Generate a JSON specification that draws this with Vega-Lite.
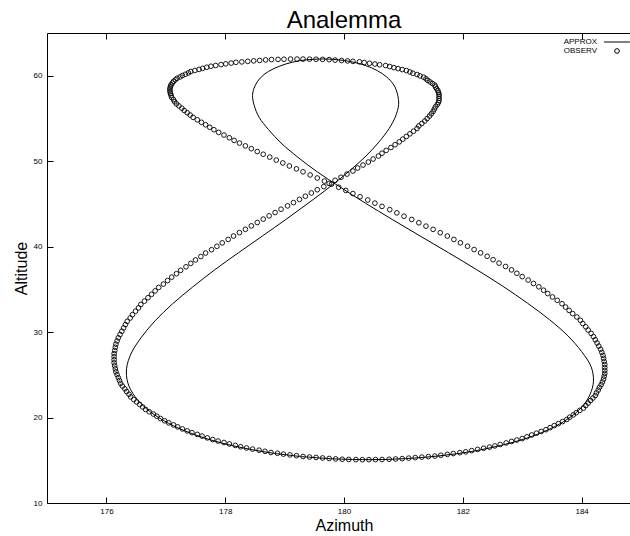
{
  "$schema": "https://vega.github.io/schema/vega-lite/v6.json",
  "width": 594,
  "height": 470,
  "autosize": {"type": "none"},
  "padding": {"left": 47, "top": 33, "right": 0, "bottom": 33},
  "background": "white",
  "title": {"text": "Analemma", "fontSize": 24, "font": "Liberation Sans", "fontWeight": "normal", "color": "black", "anchor": "middle", "offset": -19, "baseline": "alphabetic"},
  "config": {"view": {"stroke": "black", "strokeWidth": 1}, "font": "Liberation Sans"},
  "datasets": {
    "approx": [
      {"t":0,"az":179.27,"alt":15.44},{"t":5,"az":178.72,"alt":15.92},{"t":10,"az":178.20,"alt":16.59},{"t":15,"az":177.72,"alt":17.45},{"t":20,"az":177.31,"alt":18.47},{"t":25,"az":176.96,"alt":19.66},{"t":30,"az":176.68,"alt":21.00},{"t":35,"az":176.48,"alt":22.47},{"t":40,"az":176.36,"alt":24.07},{"t":45,"az":176.34,"alt":25.76},{"t":50,"az":176.42,"alt":27.55},{"t":55,"az":176.59,"alt":29.40},{"t":60,"az":176.82,"alt":31.32},{"t":65,"az":177.11,"alt":33.28},{"t":70,"az":177.45,"alt":35.26},{"t":75,"az":177.82,"alt":37.27},{"t":80,"az":178.22,"alt":39.27},{"t":85,"az":178.63,"alt":41.26},{"t":90,"az":179.03,"alt":43.22},{"t":95,"az":179.41,"alt":45.15},{"t":100,"az":179.77,"alt":47.03},{"t":105,"az":180.09,"alt":48.85},{"t":110,"az":180.37,"alt":50.60},{"t":115,"az":180.59,"alt":52.26},{"t":120,"az":180.76,"alt":53.83},{"t":125,"az":180.87,"alt":55.29},{"t":130,"az":180.92,"alt":56.63},{"t":135,"az":180.90,"alt":57.84},{"t":140,"az":180.84,"alt":58.91},{"t":145,"az":180.72,"alt":59.84},{"t":150,"az":180.56,"alt":60.60},{"t":155,"az":180.36,"alt":61.20},{"t":160,"az":180.13,"alt":61.63},{"t":165,"az":179.88,"alt":61.88},{"t":170,"az":179.63,"alt":61.96},{"t":175,"az":179.37,"alt":61.86},{"t":180,"az":179.13,"alt":61.58},{"t":185,"az":178.92,"alt":61.13},{"t":190,"az":178.73,"alt":60.51},{"t":195,"az":178.59,"alt":59.73},{"t":200,"az":178.50,"alt":58.79},{"t":205,"az":178.46,"alt":57.71},{"t":210,"az":178.49,"alt":56.49},{"t":215,"az":178.57,"alt":55.15},{"t":220,"az":178.73,"alt":53.69},{"t":225,"az":178.94,"alt":52.13},{"t":230,"az":179.22,"alt":50.48},{"t":235,"az":179.55,"alt":48.75},{"t":240,"az":179.94,"alt":46.95},{"t":245,"az":180.36,"alt":45.09},{"t":250,"az":180.81,"alt":43.19},{"t":255,"az":181.28,"alt":41.25},{"t":260,"az":181.76,"alt":39.29},{"t":265,"az":182.23,"alt":37.32},{"t":270,"az":182.68,"alt":35.34},{"t":275,"az":183.09,"alt":33.38},{"t":280,"az":183.46,"alt":31.45},{"t":285,"az":183.77,"alt":29.56},{"t":290,"az":184.00,"alt":27.72},{"t":295,"az":184.16,"alt":25.95},{"t":300,"az":184.20,"alt":24.26},{"t":305,"az":184.14,"alt":22.67},{"t":310,"az":184.00,"alt":21.19},{"t":315,"az":183.77,"alt":19.85},{"t":320,"az":183.46,"alt":18.64},{"t":325,"az":183.08,"alt":17.59},{"t":330,"az":182.63,"alt":16.72},{"t":335,"az":182.14,"alt":16.02},{"t":340,"az":181.60,"alt":15.51},{"t":345,"az":181.03,"alt":15.19},{"t":350,"az":180.44,"alt":15.07},{"t":355,"az":179.85,"alt":15.16},{"t":360,"az":179.27,"alt":15.44}
    ],
    "obs": [
      {"az":179.31,"alt":15.44},{"az":179.20,"alt":15.54},{"az":179.09,"alt":15.63},{"az":178.98,"alt":15.72},{"az":178.88,"alt":15.82},{"az":178.77,"alt":15.91},{"az":178.67,"alt":16.05},{"az":178.57,"alt":16.18},{"az":178.46,"alt":16.31},{"az":178.36,"alt":16.44},
      {"az":178.26,"alt":16.58},{"az":178.17,"alt":16.74},{"az":178.07,"alt":16.91},{"az":177.98,"alt":17.08},{"az":177.88,"alt":17.25},{"az":177.79,"alt":17.42},{"az":177.70,"alt":17.62},{"az":177.61,"alt":17.83},{"az":177.53,"alt":18.03},{"az":177.44,"alt":18.23},
      {"az":177.36,"alt":18.44},{"az":177.28,"alt":18.67},{"az":177.20,"alt":18.91},{"az":177.13,"alt":19.14},{"az":177.05,"alt":19.38},{"az":176.98,"alt":19.62},{"az":176.91,"alt":19.88},{"az":176.85,"alt":20.15},{"az":176.79,"alt":20.41},{"az":176.72,"alt":20.68},
      {"az":176.66,"alt":20.94},{"az":176.61,"alt":21.24},{"az":176.56,"alt":21.53},{"az":176.51,"alt":21.82},{"az":176.46,"alt":22.11},{"az":176.41,"alt":22.41},{"az":176.38,"alt":22.73},{"az":176.34,"alt":23.04},{"az":176.31,"alt":23.36},{"az":176.27,"alt":23.68},
      {"az":176.24,"alt":24.00},{"az":176.22,"alt":24.33},{"az":176.20,"alt":24.67},{"az":176.18,"alt":25.01},{"az":176.16,"alt":25.35},{"az":176.15,"alt":25.69},{"az":176.14,"alt":26.05},{"az":176.13,"alt":26.40},{"az":176.13,"alt":26.76},{"az":176.13,"alt":27.12},
      {"az":176.13,"alt":27.47},{"az":176.14,"alt":27.84},{"az":176.15,"alt":28.22},{"az":176.16,"alt":28.59},{"az":176.18,"alt":28.96},{"az":176.20,"alt":29.33},{"az":176.23,"alt":29.72},{"az":176.26,"alt":30.10},{"az":176.29,"alt":30.49},{"az":176.32,"alt":30.87},
      {"az":176.35,"alt":31.26},{"az":176.40,"alt":31.65},{"az":176.44,"alt":32.04},{"az":176.49,"alt":32.44},{"az":176.54,"alt":32.83},{"az":176.58,"alt":33.23},{"az":176.64,"alt":33.62},{"az":176.70,"alt":34.02},{"az":176.76,"alt":34.42},{"az":176.82,"alt":34.82},
      {"az":176.88,"alt":35.22},{"az":176.96,"alt":35.62},{"az":177.03,"alt":36.03},{"az":177.10,"alt":36.43},{"az":177.18,"alt":36.83},{"az":177.25,"alt":37.23},{"az":177.34,"alt":37.64},{"az":177.42,"alt":38.04},{"az":177.50,"alt":38.44},{"az":177.59,"alt":38.84},
      {"az":177.67,"alt":39.25},{"az":177.77,"alt":39.64},{"az":177.86,"alt":40.04},{"az":177.95,"alt":40.44},{"az":178.05,"alt":40.84},{"az":178.14,"alt":41.24},{"az":178.24,"alt":41.64},{"az":178.34,"alt":42.03},{"az":178.44,"alt":42.43},{"az":178.54,"alt":42.82},
      {"az":178.64,"alt":43.22},{"az":178.74,"alt":43.60},{"az":178.84,"alt":43.99},{"az":178.94,"alt":44.38},{"az":179.05,"alt":44.77},{"az":179.15,"alt":45.15},{"az":179.25,"alt":45.53},{"az":179.35,"alt":45.90},{"az":179.45,"alt":46.28},{"az":179.55,"alt":46.66},
      {"az":179.66,"alt":47.03},{"az":179.75,"alt":47.40},{"az":179.85,"alt":47.76},{"az":179.95,"alt":48.12},{"az":180.05,"alt":48.49},{"az":180.15,"alt":48.85},{"az":180.23,"alt":49.20},{"az":180.32,"alt":49.55},{"az":180.41,"alt":49.90},{"az":180.49,"alt":50.25},
      {"az":180.58,"alt":50.60},{"az":180.64,"alt":50.93},{"az":180.71,"alt":51.26},{"az":180.79,"alt":51.60},{"az":180.86,"alt":51.93},{"az":180.93,"alt":52.26},{"az":180.99,"alt":52.58},{"az":181.05,"alt":52.89},{"az":181.11,"alt":53.20},{"az":181.17,"alt":53.51},
      {"az":181.23,"alt":53.83},{"az":181.26,"alt":54.12},{"az":181.31,"alt":54.41},{"az":181.36,"alt":54.70},{"az":181.40,"alt":54.99},{"az":181.44,"alt":55.28},{"az":181.47,"alt":55.55},{"az":181.50,"alt":55.82},{"az":181.52,"alt":56.09},{"az":181.54,"alt":56.36},
      {"az":181.57,"alt":56.62},{"az":181.59,"alt":56.87},{"az":181.60,"alt":57.11},{"az":181.60,"alt":57.35},{"az":181.60,"alt":57.59},{"az":181.60,"alt":57.83},{"az":181.59,"alt":58.05},{"az":181.58,"alt":58.26},{"az":181.56,"alt":58.48},{"az":181.54,"alt":58.69},
      {"az":181.53,"alt":58.90},{"az":181.49,"alt":59.09},{"az":181.45,"alt":59.27},{"az":181.41,"alt":59.46},{"az":181.38,"alt":59.64},{"az":181.34,"alt":59.83},{"az":181.28,"alt":59.98},{"az":181.23,"alt":60.14},{"az":181.16,"alt":60.29},{"az":181.11,"alt":60.44},
      {"az":181.05,"alt":60.60},{"az":180.98,"alt":60.72},{"az":180.91,"alt":60.83},{"az":180.84,"alt":60.95},{"az":180.77,"alt":61.07},{"az":180.70,"alt":61.19},{"az":180.60,"alt":61.28},{"az":180.52,"alt":61.37},{"az":180.43,"alt":61.45},{"az":180.34,"alt":61.54},
      {"az":180.26,"alt":61.63},{"az":180.15,"alt":61.68},{"az":180.06,"alt":61.73},{"az":179.96,"alt":61.78},{"az":179.85,"alt":61.83},{"az":179.75,"alt":61.88},{"az":179.64,"alt":61.91},{"az":179.53,"alt":61.93},{"az":179.42,"alt":61.94},{"az":179.31,"alt":61.95},
      {"az":179.21,"alt":61.95},{"az":179.10,"alt":61.95},{"az":178.99,"alt":61.93},{"az":178.89,"alt":61.91},{"az":178.78,"alt":61.89},{"az":178.68,"alt":61.85},{"az":178.58,"alt":61.79},{"az":178.48,"alt":61.74},{"az":178.38,"alt":61.68},{"az":178.28,"alt":61.62},
      {"az":178.18,"alt":61.57},{"az":178.10,"alt":61.48},{"az":178.01,"alt":61.39},{"az":177.93,"alt":61.30},{"az":177.84,"alt":61.20},{"az":177.76,"alt":61.11},{"az":177.69,"alt":60.99},{"az":177.62,"alt":60.86},{"az":177.56,"alt":60.74},{"az":177.49,"alt":60.61},
      {"az":177.42,"alt":60.49},{"az":177.38,"alt":60.33},{"az":177.33,"alt":60.17},{"az":177.28,"alt":60.02},{"az":177.24,"alt":59.86},{"az":177.19,"alt":59.70},{"az":177.16,"alt":59.52},{"az":177.13,"alt":59.33},{"az":177.11,"alt":59.14},{"az":177.09,"alt":58.95},
      {"az":177.08,"alt":58.77},{"az":177.07,"alt":58.55},{"az":177.07,"alt":58.33},{"az":177.07,"alt":58.12},{"az":177.08,"alt":57.90},{"az":177.09,"alt":57.68},{"az":177.10,"alt":57.44},{"az":177.13,"alt":57.20},{"az":177.15,"alt":56.95},{"az":177.18,"alt":56.71},
      {"az":177.22,"alt":56.47},{"az":177.27,"alt":56.20},{"az":177.31,"alt":55.93},{"az":177.36,"alt":55.67},{"az":177.41,"alt":55.40},{"az":177.46,"alt":55.13},{"az":177.53,"alt":54.84},{"az":177.60,"alt":54.55},{"az":177.67,"alt":54.26},{"az":177.74,"alt":53.97},
      {"az":177.81,"alt":53.68},{"az":177.89,"alt":53.37},{"az":177.98,"alt":53.06},{"az":178.07,"alt":52.74},{"az":178.15,"alt":52.43},{"az":178.24,"alt":52.12},{"az":178.34,"alt":51.79},{"az":178.44,"alt":51.46},{"az":178.54,"alt":51.13},{"az":178.64,"alt":50.81},
      {"az":178.75,"alt":50.48},{"az":178.86,"alt":50.13},{"az":178.97,"alt":49.79},{"az":179.08,"alt":49.44},{"az":179.20,"alt":49.10},{"az":179.31,"alt":48.75},{"az":179.43,"alt":48.39},{"az":179.55,"alt":48.03},{"az":179.67,"alt":47.67},{"az":179.79,"alt":47.31},
      {"az":179.91,"alt":46.95},{"az":180.03,"alt":46.58},{"az":180.15,"alt":46.21},{"az":180.27,"alt":45.84},{"az":180.40,"alt":45.46},{"az":180.52,"alt":45.09},{"az":180.64,"alt":44.71},{"az":180.77,"alt":44.33},{"az":180.89,"alt":43.95},{"az":181.01,"alt":43.56},
      {"az":181.14,"alt":43.18},{"az":181.26,"alt":42.79},{"az":181.38,"alt":42.40},{"az":181.50,"alt":42.02},{"az":181.62,"alt":41.63},{"az":181.74,"alt":41.24},{"az":181.85,"alt":40.84},{"az":181.96,"alt":40.45},{"az":182.08,"alt":40.05},{"az":182.19,"alt":39.66},
      {"az":182.30,"alt":39.27},{"az":182.41,"alt":38.87},{"az":182.51,"alt":38.47},{"az":182.61,"alt":38.07},{"az":182.72,"alt":37.68},{"az":182.82,"alt":37.28},{"az":182.91,"alt":36.88},{"az":183.00,"alt":36.49},{"az":183.10,"alt":36.09},{"az":183.19,"alt":35.69},
      {"az":183.28,"alt":35.30},{"az":183.36,"alt":34.90},{"az":183.43,"alt":34.51},{"az":183.51,"alt":34.11},{"az":183.59,"alt":33.72},{"az":183.67,"alt":33.32},{"az":183.73,"alt":32.93},{"az":183.79,"alt":32.54},{"az":183.85,"alt":32.16},{"az":183.92,"alt":31.77},
      {"az":183.98,"alt":31.38},{"az":184.02,"alt":31.00},{"az":184.07,"alt":30.62},{"az":184.11,"alt":30.24},{"az":184.16,"alt":29.85},{"az":184.20,"alt":29.47},{"az":184.23,"alt":29.10},{"az":184.26,"alt":28.73},{"az":184.29,"alt":28.36},{"az":184.32,"alt":27.99},
      {"az":184.34,"alt":27.63},{"az":184.36,"alt":27.27},{"az":184.37,"alt":26.92},{"az":184.38,"alt":26.56},{"az":184.39,"alt":26.21},{"az":184.39,"alt":25.85},{"az":184.39,"alt":25.51},{"az":184.39,"alt":25.17},{"az":184.38,"alt":24.84},{"az":184.37,"alt":24.50},
      {"az":184.35,"alt":24.16},{"az":184.33,"alt":23.84},{"az":184.30,"alt":23.53},{"az":184.28,"alt":23.21},{"az":184.25,"alt":22.89},{"az":184.23,"alt":22.57},{"az":184.19,"alt":22.28},{"az":184.15,"alt":21.99},{"az":184.11,"alt":21.69},{"az":184.07,"alt":21.40},
      {"az":184.03,"alt":21.11},{"az":183.97,"alt":20.84},{"az":183.91,"alt":20.57},{"az":183.86,"alt":20.31},{"az":183.80,"alt":20.04},{"az":183.75,"alt":19.77},{"az":183.68,"alt":19.53},{"az":183.61,"alt":19.29},{"az":183.54,"alt":19.06},{"az":183.47,"alt":18.82},
      {"az":183.40,"alt":18.58},{"az":183.32,"alt":18.37},{"az":183.24,"alt":18.17},{"az":183.16,"alt":17.96},{"az":183.08,"alt":17.75},{"az":183.00,"alt":17.54},{"az":182.91,"alt":17.37},{"az":182.82,"alt":17.20},{"az":182.73,"alt":17.03},{"az":182.63,"alt":16.85},
      {"az":182.54,"alt":16.68},{"az":182.45,"alt":16.54},{"az":182.35,"alt":16.41},{"az":182.25,"alt":16.27},{"az":182.15,"alt":16.13},{"az":182.05,"alt":15.99},{"az":181.95,"alt":15.89},{"az":181.84,"alt":15.79},{"az":181.74,"alt":15.69},{"az":181.63,"alt":15.59},
      {"az":181.53,"alt":15.49},{"az":181.42,"alt":15.43},{"az":181.31,"alt":15.37},{"az":181.20,"alt":15.31},{"az":181.09,"alt":15.25},{"az":180.98,"alt":15.19},{"az":180.87,"alt":15.15},{"az":180.76,"alt":15.12},{"az":180.64,"alt":15.09},{"az":180.53,"alt":15.08},
      {"az":180.42,"alt":15.07},{"az":180.31,"alt":15.07},{"az":180.20,"alt":15.08},{"az":180.08,"alt":15.10},{"az":179.97,"alt":15.12},{"az":179.86,"alt":15.16},{"az":179.75,"alt":15.21},{"az":179.64,"alt":15.27},{"az":179.53,"alt":15.33},{"az":179.42,"alt":15.38}
    ]
  },
  "layer": [
    {
      "data": {"name": "approx"},
      "mark": {"type": "line", "color": "black", "strokeWidth": 1, "interpolate": "catmull-rom"},
      "encoding": {
        "x": {"field": "az", "type": "quantitative", "scale": {"domain": [175, 185], "nice": false, "zero": false},
              "axis": {"orient": "top", "values": [176, 178, 180, 182, 184], "labels": false, "title": null, "domain": false, "grid": false, "tickSize": -6, "tickColor": "black"}},
        "y": {"field": "alt", "type": "quantitative", "scale": {"domain": [10, 65], "nice": false, "zero": false}, "axis": null},
        "order": {"field": "t", "type": "quantitative"}
      }
    },
    {
      "data": {"name": "obs"},
      "mark": {"type": "point", "filled": false, "color": "black", "size": 22, "strokeWidth": 0.9, "opacity": 1},
      "encoding": {
        "x": {"field": "az", "type": "quantitative", "scale": {"domain": [175, 185], "nice": false, "zero": false},
              "axis": {"orient": "bottom", "values": [176, 178, 180, 182, 184], "domain": false, "grid": false, "tickSize": -6, "tickColor": "black", "labelPadding": 10, "labelFontSize": 8, "labelFont": "Liberation Sans", "labelColor": "black",
                       "title": "Azimuth", "titleFontSize": 16, "titleFont": "Liberation Sans", "titleFontWeight": "normal", "titleColor": "black", "titleX": 297, "titleY": 27.5, "titleBaseline": "alphabetic"}},
        "y": {"field": "alt", "type": "quantitative", "scale": {"domain": [10, 65], "nice": false, "zero": false},
              "axis": {"orient": "left", "values": [10, 20, 30, 40, 50, 60], "domain": false, "grid": false, "tickSize": -6, "tickColor": "black", "labelPadding": 11, "labelFontSize": 8, "labelFont": "Liberation Sans", "labelColor": "black",
                       "title": "Altitude", "titleFontSize": 16, "titleFont": "Liberation Sans", "titleFontWeight": "normal", "titleColor": "black", "titleX": -21, "titleY": 235, "titleAngle": -90, "titleBaseline": "alphabetic"}},
        "shape": {"datum": "OBSERV", "type": "nominal",
                  "scale": {"domain": ["APPROX", "OBSERV"], "range": ["M-5.5,0H5.5", "circle"]},
                  "legend": {"orient": "none", "legendX": 566, "legendY": 5, "title": null, "labelFontSize": 8, "labelFont": "Liberation Sans", "labelColor": "black", "labelAlign": "right", "labelOffset": -24, "symbolSize": 22, "symbolStrokeColor": "black", "symbolStrokeWidth": 1, "symbolFillColor": "transparent", "rowPadding": 0, "symbolOffset": 0}}
      }
    }
  ],
  "resolve": {"axis": {"x": "independent", "y": "independent"}}
}
